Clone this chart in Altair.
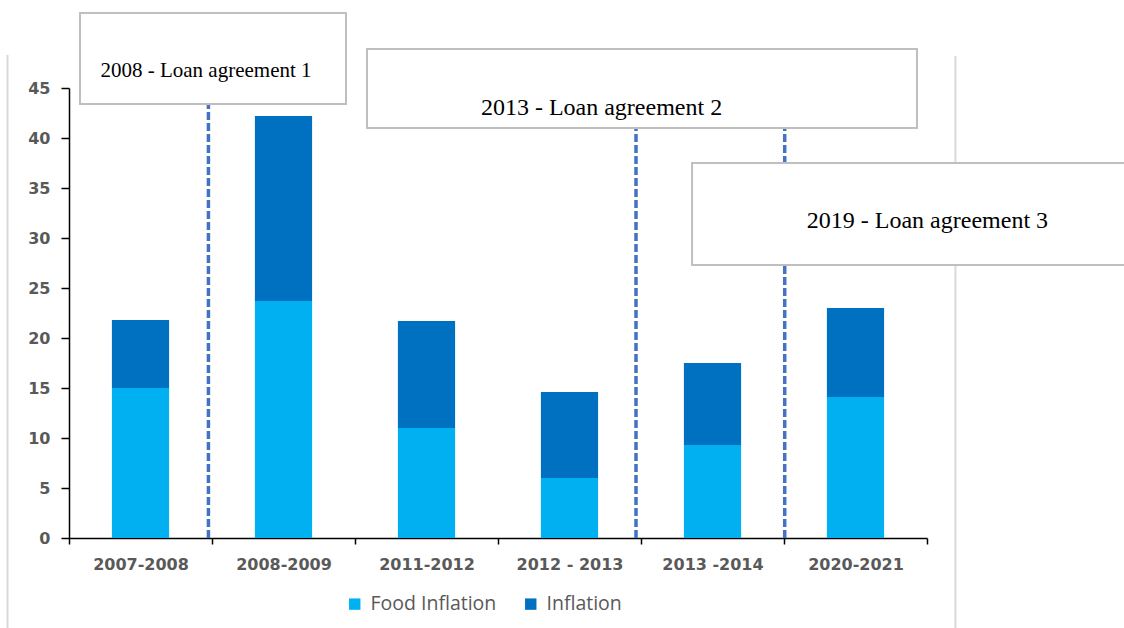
import json
import altair as alt
import pandas as pd

# ---------------- data ----------------
categories = ["2007-2008", "2008-2009", "2011-2012", "2012 - 2013", "2013 -2014", "2020-2021"]
food_inflation = [15.0, 23.7, 11.0, 6.0, 9.3, 14.1]
inflation = [6.8, 18.5, 10.7, 8.6, 8.2, 8.9]
series_names = ["Food Inflation", "Inflation"]
series_colors = ["#00B0F0", "#0070C0"]
y_ticks = [0, 5, 10, 15, 20, 25, 30, 35, 40, 45]

loan_labels = ["2008 - Loan agreement 1", "2013 - Loan agreement 2", "2019 - Loan agreement 3"]
loan_line_pos = [0.475, 3.465, 4.505]          # position between category slots

# ---------------- layout (annotation boxes, in axis units) ----------------
box_x = [-0.423, 1.584, 3.857]
box_x2 = [1.437, 5.430, 6.95]
box_y = [52.5, 48.9, 37.5]
box_y2 = [43.4, 41.0, 27.3]
text_x = [0.458, 3.224, 5.503]
text_y = [46.7, 43.0, 31.7]
text_size = [21, 24, 24]

W, H = 858, 450
half_bar = 0.2

# ---------------- tables ----------------
rows = []
for i, c in enumerate(categories):
    base = 0.0
    for name, vals in zip(series_names, [food_inflation, inflation]):
        rows.append(dict(cat=c, series=name, x=i - half_bar, x2=i + half_bar,
                         y=base + vals[i], y2=base))
        base += vals[i]
bars_df = pd.DataFrame(rows)

rules_df = pd.DataFrame(dict(x=loan_line_pos, y=[0] * 3, y2=[45] * 3))
boxes_df = pd.DataFrame(dict(x=box_x, x2=box_x2, y=box_y, y2=box_y2))
text_df = pd.DataFrame(dict(x=text_x, y=text_y, label=loan_labels, fs=text_size))
frame_df = pd.DataFrame(dict(x=[-0.930, 5.699], y=[48.3, 48.2], y2=[-9.0, -9.0]))

# ---------------- scales / axes ----------------
xscale = alt.Scale(domain=[-0.5, len(categories) - 0.5], nice=False, zero=False)
yscale = alt.Scale(domain=[0, 45], nice=False)

label_expr = (f"datum.value % 1 === 0 ? {json.dumps(categories)}[datum.value] : ''")
xaxis = alt.Axis(
    title=None, grid=False,
    values=[k * 0.5 - 0.5 for k in range(2 * len(categories) + 1)],
    labelExpr=label_expr, labelOverlap=False, labelFlush=False, labelBound=False,
    tickOpacity={"condition": {"test": "datum.value % 1 === 0", "value": 0}, "value": 1},
    domainColor="black", tickColor="black", domainWidth=1.5, tickWidth=1.5,
    tickSize=6, labelPadding=12,
    labelFont="DejaVu Sans", labelFontWeight="bold", labelFontSize=16, labelColor="#595959",
)
yaxis = alt.Axis(
    title=None, grid=False, values=y_ticks,
    domainColor="black", tickColor="black", domainWidth=1.5, tickWidth=1.5,
    tickSize=8, labelPadding=11,
    labelFont="DejaVu Sans", labelFontWeight="bold", labelFontSize=16, labelColor="#595959",
)


def X(f="x"):
    return alt.X(f"{f}:Q", scale=xscale, axis=xaxis)


def Y(f="y"):
    return alt.Y(f"{f}:Q", scale=yscale, axis=yaxis)


frame = alt.Chart(frame_df).mark_rule(color="#D9D9D9", strokeWidth=2).encode(
    x=X(), y=Y(), y2="y2:Q")

bars = alt.Chart(bars_df).mark_bar().encode(
    x=X(), x2="x2:Q", y=Y(), y2="y2:Q",
    color=alt.Color("series:N",
                    scale=alt.Scale(domain=series_names, range=series_colors),
                    legend=alt.Legend(
                        orient="none", legendX=276, legendY=506, direction="horizontal",
                        title=None, symbolType="square", symbolSize=130,
                        symbolStrokeWidth=0, labelFont="Open Sans", labelFontSize=19.5,
                        labelColor="#595959", labelOffset=6, columnPadding=24)),
)

rules = alt.Chart(rules_df).mark_rule(color="#4472C4", strokeWidth=3.5, strokeDash=[8, 3]).encode(
    x=X(), y=Y(), y2="y2:Q")

boxes = alt.Chart(boxes_df).mark_rect(fill="white", stroke="#BFBFBF", strokeWidth=2).encode(
    x=X(), x2="x2:Q", y=Y(), y2="y2:Q")

texts = alt.Chart(text_df).mark_text(font="Liberation Serif", color="black",
                                     align="center", baseline="middle").encode(
    x=X(), y=Y(), text="label:N", size=alt.Size("fs:Q", scale=None))

chart = alt.layer(frame, bars, rules, boxes, texts).properties(
    width=W, height=H,
    autosize=alt.AutoSizeParams(type="none"),
    padding={"left": 69, "top": 88, "right": 197, "bottom": 90},
    background="white",
).configure_view(stroke=None)

chart.save("out.html", embed_options={"renderer": "svg", "actions": False})
